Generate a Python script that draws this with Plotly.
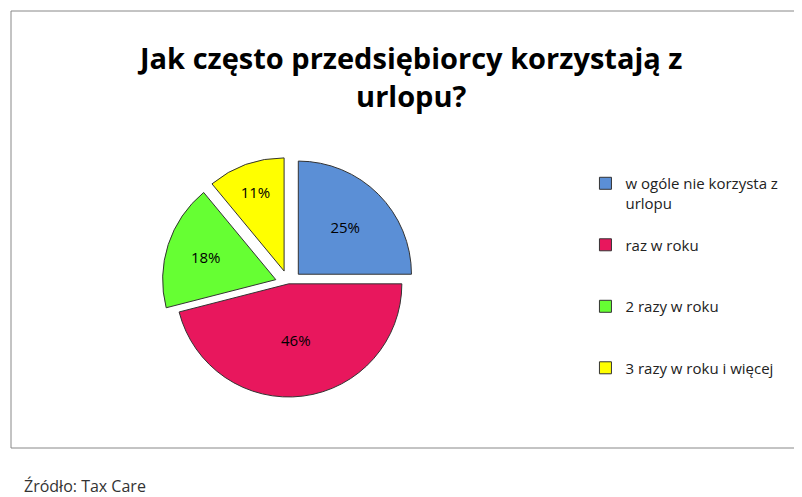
import plotly.graph_objects as go

labels = ["w ogóle nie korzysta z<br>urlopu<br> ", "raz w roku<br> <br> ", "2 razy w roku<br> <br> ", "3 razy w roku i więcej"]
values = [25, 46, 18, 11]
colors = ["#5B8FD6", "#E8175D", "#66FF33", "#FFFF00"]
pulls = [0.12, 0.0, 0.12, 0.12]

fig = go.Figure(go.Pie(
    labels=labels, values=values, sort=False, direction="clockwise", rotation=0,
    pull=pulls, textinfo="percent", texttemplate="%{percent:.0%}",
    textposition="inside", insidetextorientation="horizontal",
    textfont=dict(size=15, color="black", family="Open Sans"),
    marker=dict(colors=colors, line=dict(color="#333333", width=1)),
    domain=dict(x=[0.10, 0.60], y=[0.19, 0.70]),
))

fig.update_layout(
    width=802, height=497, margin=dict(l=0, r=0, t=0, b=0),
    paper_bgcolor="white",
    font=dict(family="Open Sans", color="#222"),
    legend=dict(x=0.72, y=0.68, xanchor="left", yanchor="top", valign="top",
                font=dict(size=15, color="#222"), traceorder="normal"),
    shapes=[dict(type="rect", xref="paper", yref="paper",
                 x0=3/802, x1=799/802, y0=1-440/497, y1=1-3/497,
                 line=dict(color="#888888", width=1))],
    annotations=[
        dict(text="<b>Jak często przedsiębiorcy korzystają z<br>urlopu?</b>",
             xref="paper", yref="paper", x=0.5, y=1-68/497,
             xanchor="center", yanchor="middle", showarrow=False,
             font=dict(size=29, color="black", family="Open Sans")),
        dict(text="Źródło: Tax Care", xref="paper", yref="paper",
             x=14/802, y=1-478/497, xanchor="left", yanchor="middle",
             showarrow=False, font=dict(size=16, color="#333")),
    ],
)

fig.write_html("out.html")
